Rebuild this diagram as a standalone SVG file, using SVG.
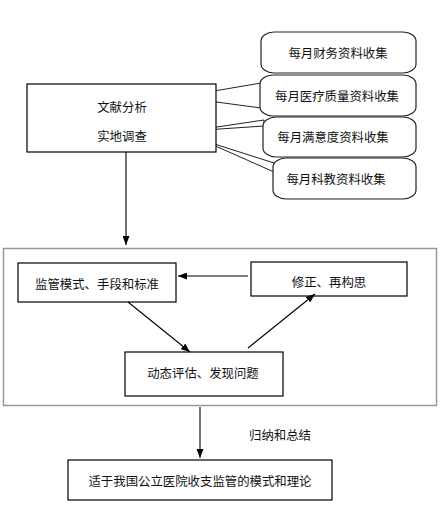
<svg xmlns="http://www.w3.org/2000/svg" width="440" height="508" viewBox="0 0 440 508">
<defs>
<marker id="ah" markerWidth="9" markerHeight="7" refX="9" refY="3.5" orient="auto" markerUnits="userSpaceOnUse">
<path d="M0,0 L9,3.5 L0,7 z" fill="#000"/>
</marker>
<style>
.box{fill:#fff;stroke:#000;stroke-width:1.2}
.rbox{fill:#fff;stroke:#222;stroke-width:1.2}
.tail{fill:#fff;stroke:#222;stroke-width:1}
.frame{fill:#fff;stroke:#999;stroke-width:1.5}
.ln{fill:none;stroke:#000;stroke-width:1.1}
text{font-family:"Noto Sans CJK SC","Noto Sans",sans-serif;font-size:12.4px;fill:#111;text-anchor:middle;dominant-baseline:central}
</style>
</defs>
<rect width="440" height="508" fill="#fff"/>
<rect class="frame" x="3.5" y="248.5" width="433" height="157"/>

<g id="callout1">
<rect class="rbox" x="261" y="32" width="155" height="41" rx="13" ry="9"/>
<text x="338" y="53">每月财务资料收集</text>
</g>
<g id="callout2">
<polygon class="tail" points="261,83 179,97 261,108"/>
<rect class="rbox" x="260" y="75" width="156" height="41" rx="13" ry="9"/>
<text x="337" y="96">每月医疗质量资料收集</text>
</g>
<g id="callout3">
<polygon class="tail" points="264,120 190,131 264,126"/>
<rect class="rbox" x="263" y="117" width="153" height="40" rx="13" ry="9"/>
<text x="333" y="137">每月满意度资料收集</text>
</g>
<g id="callout4">
<polygon class="tail" points="274,163 202,140 274,172"/>
<rect class="rbox" x="273" y="158" width="143" height="41" rx="13" ry="9"/>
<text x="336" y="179">每月科教资料收集</text>
</g>

<g id="top">
<rect class="box" x="27" y="84" width="189" height="68"/>
<text x="122" y="107">文献分析</text>
<text x="122" y="136">实地调查</text>
</g>

<g id="standard">
<rect class="box" x="18" y="263" width="158" height="39"/>
<text x="97" y="284">监管模式、手段和标准</text>
</g>
<g id="revise">
<rect class="box" x="251" y="262" width="156" height="34"/>
<text x="329" y="282">修正、再构思</text>
</g>
<g id="evaluate">
<rect class="box" x="125" y="352" width="158" height="44"/>
<text x="203" y="373">动态评估、发现问题</text>
</g>
<g id="result">
<rect class="box" x="68" y="460" width="264" height="40"/>
<text x="200" y="481">适于我国公立医院收支监管的模式和理论</text>
</g>
<g id="label">
<text x="280" y="435">归纳和总结</text>
</g>

<g id="connectors">
<line class="ln" x1="126" y1="152" x2="126" y2="245" marker-end="url(#ah)"/>
<line class="ln" x1="248" y1="276" x2="178" y2="276" marker-end="url(#ah)"/>
<line class="ln" x1="128" y1="302" x2="190" y2="352" marker-end="url(#ah)"/>
<line class="ln" x1="248" y1="348" x2="315" y2="294" marker-end="url(#ah)"/>
<line class="ln" x1="200" y1="407" x2="200" y2="458" marker-end="url(#ah)"/>
</g>
</svg>
